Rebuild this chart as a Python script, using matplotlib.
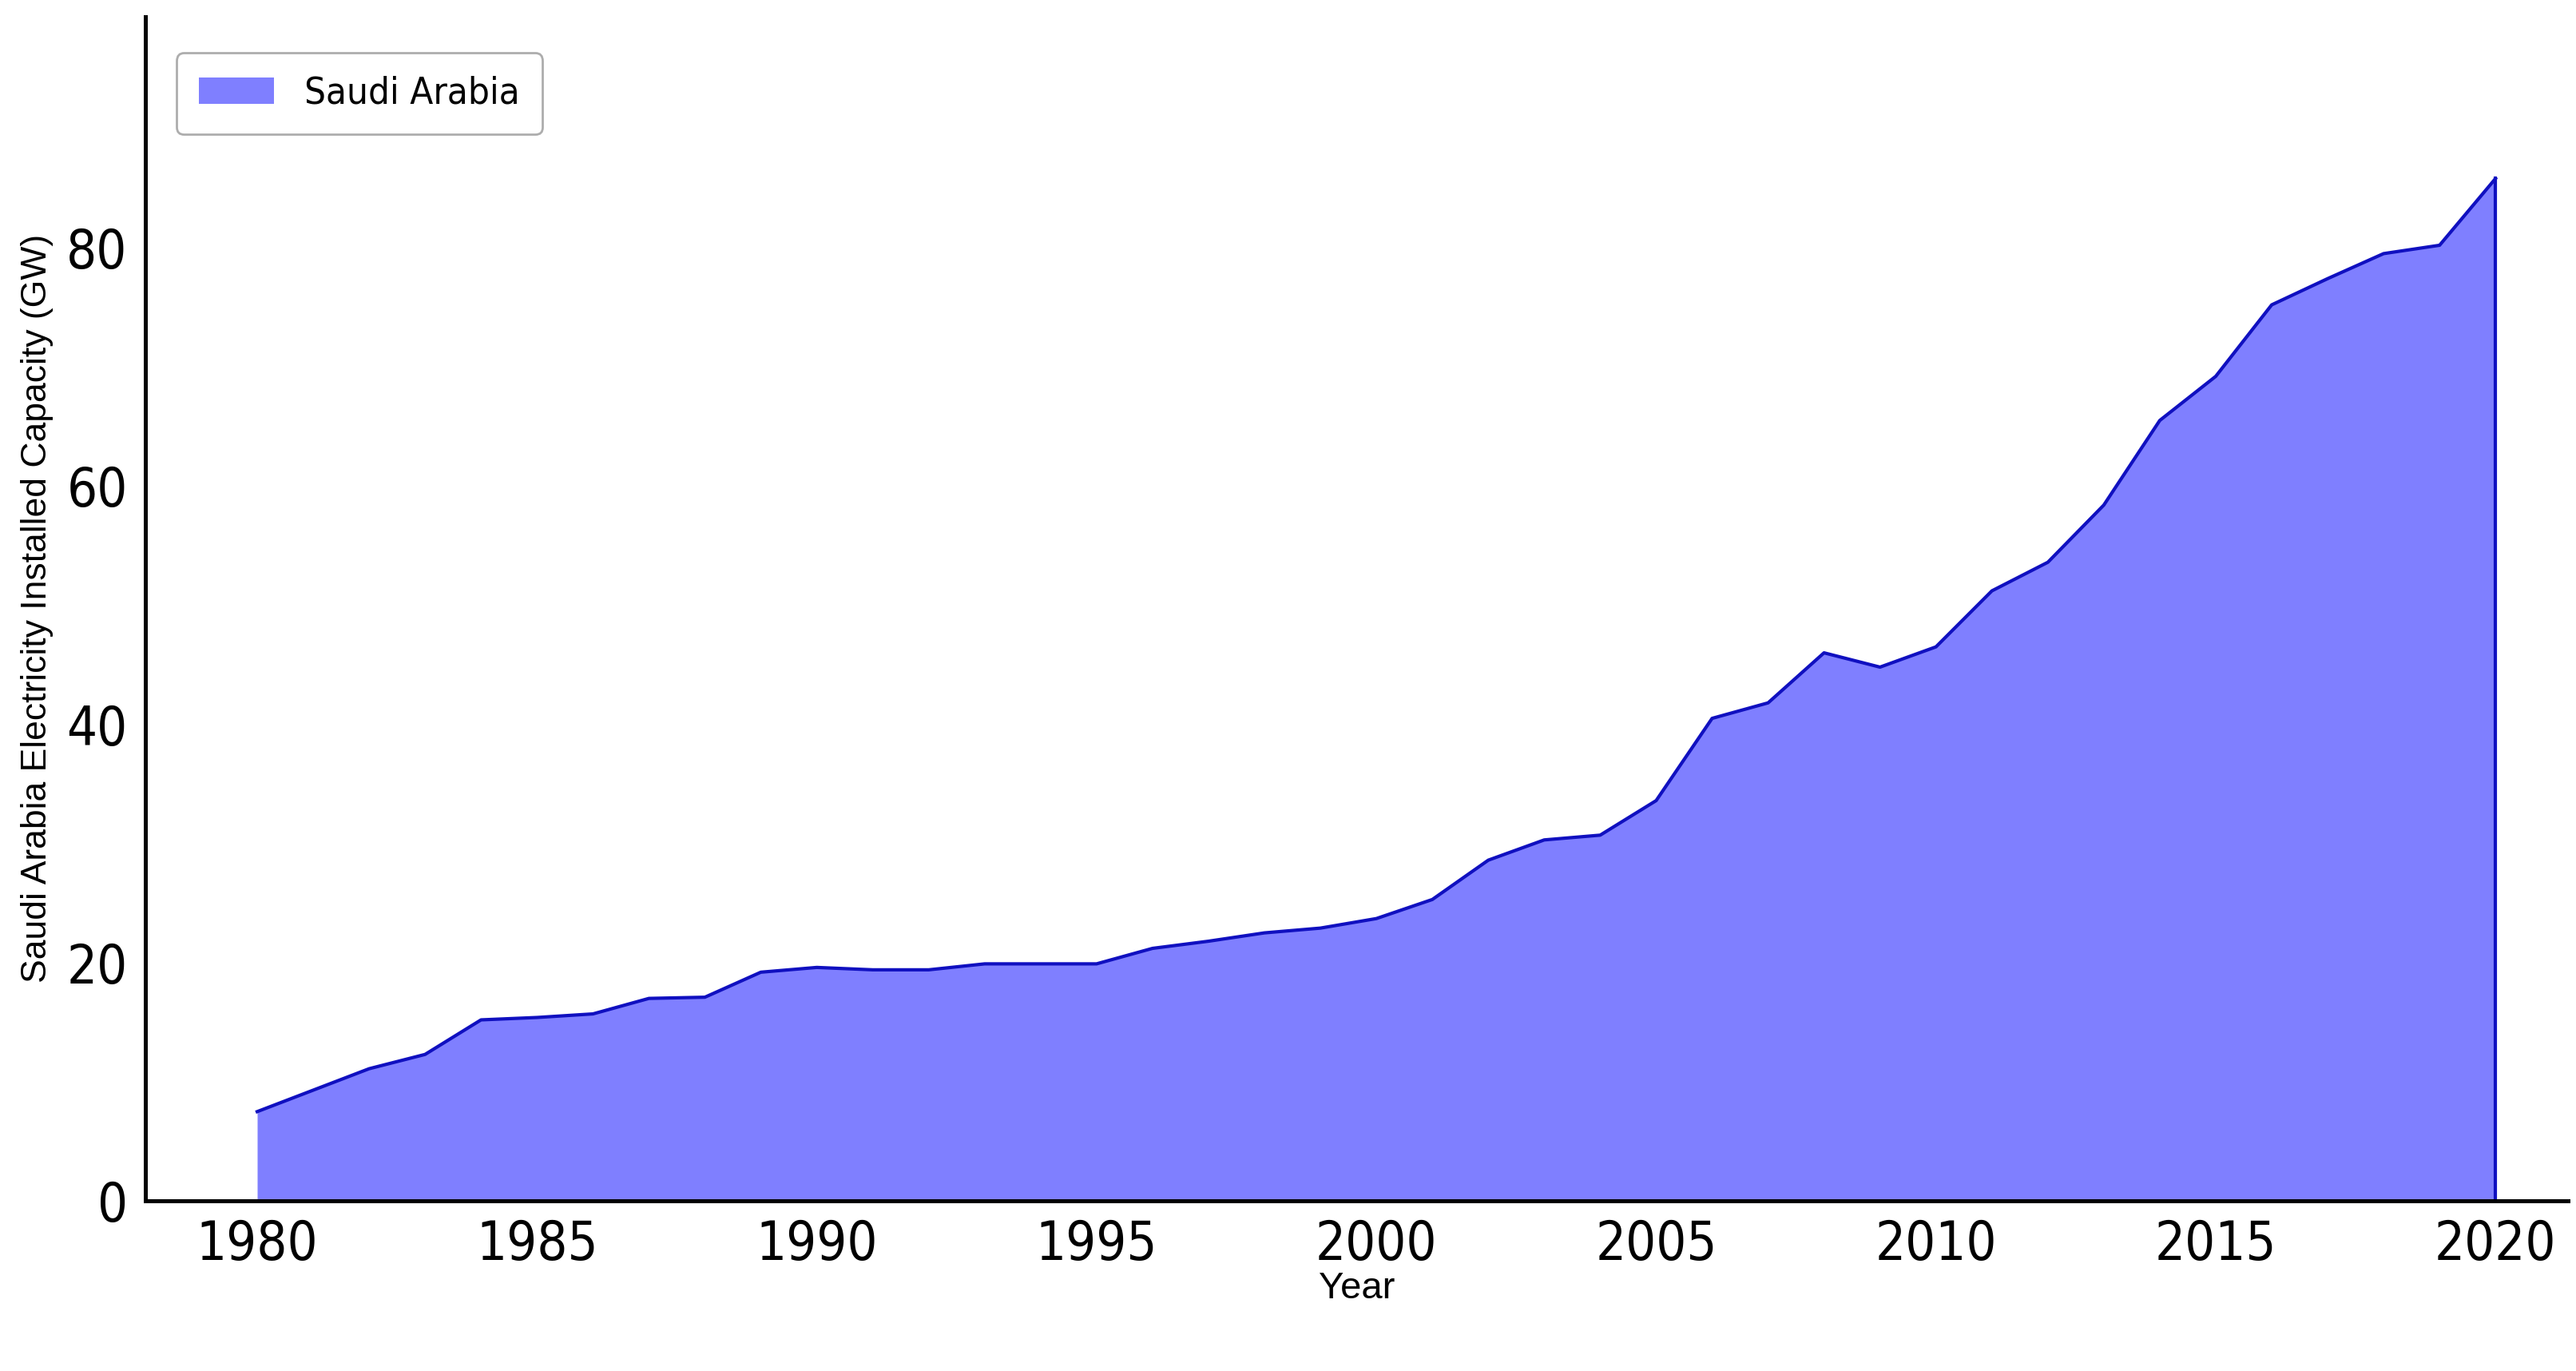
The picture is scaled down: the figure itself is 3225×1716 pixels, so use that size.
import matplotlib
matplotlib.use('Agg')
import matplotlib.pyplot as plt

# installed capacity
years = list(range(1980, 2021))
capacity = [7.5, 9.3, 11.1, 12.3, 15.2, 15.4, 15.7, 17.0, 17.1, 19.2,
            19.6, 19.4, 19.4, 19.9, 19.9, 19.9, 21.2, 21.8, 22.5, 22.9,
            23.7, 25.3, 28.6, 30.3, 30.7, 33.6, 40.5, 41.8, 46.0, 44.8,
            46.5, 51.2, 53.6, 58.4, 65.5, 69.2, 75.2, 77.4, 79.5, 80.2,
            85.8]
xticks = [1980, 1985, 1990, 1995, 2000, 2005, 2010, 2015, 2020]
yticks = [0, 20, 40, 60, 80]

fig = plt.figure(figsize=(16.125, 8.58), dpi=200)
ax = fig.add_axes([0.0564, 0.124, 0.9406, 0.864])
ax.fill_between(years, capacity, color='blue', alpha=0.5, linewidth=0, label='Saudi Arabia')
ax.plot(years, capacity, color='#1010c0', linewidth=1.5)
ax.plot([2020, 2020], [0, capacity[-1]], color='#1010c0', linewidth=1.5)

ax.set_xlim(1978.0, 2021.3)
ax.set_ylim(0, 99.4)
ax.set_xticks(xticks)
ax.set_yticks(yticks)
for lab in ax.get_xticklabels() + ax.get_yticklabels():
    lab.set_family('DejaVu Sans')
    lab.set_stretch('condensed')
    lab.set_fontsize(24)
ax.tick_params(length=0, pad=8)
for s in ['top', 'right']:
    ax.spines[s].set_visible(False)
ax.spines['left'].set_linewidth(1.8)
ax.spines['bottom'].set_linewidth(1.8)

ax.set_xlabel('Year', fontsize=17, labelpad=0, family=['Liberation Sans', 'DejaVu Sans'])
ax.set_ylabel('Saudi Arabia Electricity Installed Capacity (GW)', fontsize=16, labelpad=6,
              family=['Liberation Sans', 'DejaVu Sans'])

leg = ax.legend(loc='upper left', prop={'family': 'DejaVu Sans', 'stretch': 'condensed', 'size': 17},
                borderpad=0.6, handlelength=2.0, bbox_to_anchor=(0.005, 0.985))
leg.get_frame().set_edgecolor('#999999')

fig.savefig('out.png')
